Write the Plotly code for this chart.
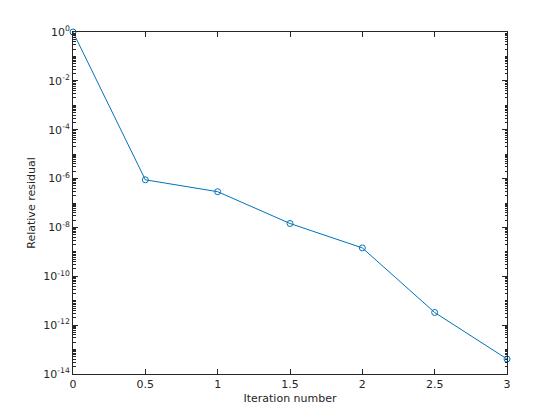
import numpy as np
import plotly.graph_objects as go

iterations = [0, 0.5, 1, 1.5, 2, 2.5, 3]
residuals = [1.0, 8.9e-7, 2.9e-7, 1.45e-8, 1.45e-9, 3.3e-12, 4.1e-14]

ytick_exps = [0, -2, -4, -6, -8, -10, -12, -14]
ytick_text = ["10<sup>%d</sup>" % e for e in ytick_exps]
xtick_vals = [0, 0.5, 1, 1.5, 2, 2.5, 3]
xtick_text = ["0", "0.5", "1", "1.5", "2", "2.5", "3"]

# minor ticks on the log axis: 2..9 in every decade
minor_vals = []
for d in range(-14, 0):
    for k in range(2, 10):
        minor_vals.append(k * 10.0 ** d)
    minor_vals.append(10.0 ** d)

blue = "#0072BD"
axcol = "#262626"

fig = go.Figure()
fig.add_trace(go.Scatter(
    x=iterations, y=residuals,
    mode="lines+markers",
    line=dict(color=blue, width=1),
    marker=dict(symbol="circle-open", size=6, color=blue, line=dict(width=1, color=blue)),
    cliponaxis=False,
    showlegend=False,
))

# the page body has an 8px margin, so the margins are shifted to compensate
fig.update_layout(
    width=560, height=420,
    margin=dict(l=65, r=61, t=23.5, b=54.2),
    paper_bgcolor="white", plot_bgcolor="white",
    font=dict(family="DejaVu Sans", size=11, color=axcol),
)
fig.update_xaxes(
    range=[0, 3], tickvals=xtick_vals, ticktext=xtick_text,
    ticks="inside", ticklen=5, tickcolor=axcol, automargin=False,
    showline=True, linecolor=axcol, linewidth=1, mirror="ticks",
    showgrid=False, zeroline=False,
    title=dict(text="Iteration number", standoff=4, font=dict(size=11)),
)
fig.update_yaxes(
    type="log", range=[-14, 0],
    tickvals=[10.0 ** e for e in ytick_exps], ticktext=ytick_text,
    ticks="inside", ticklen=5, tickcolor=axcol, automargin=False,
    minor=dict(tickvals=minor_vals, ticks="inside", ticklen=2.5, tickcolor=axcol, showgrid=False),
    showline=True, linecolor=axcol, linewidth=1, mirror="ticks",
    showgrid=False, zeroline=False,
    title=dict(text="Relative residual", standoff=5, font=dict(size=11)),
)

fig.write_html("out.html")
